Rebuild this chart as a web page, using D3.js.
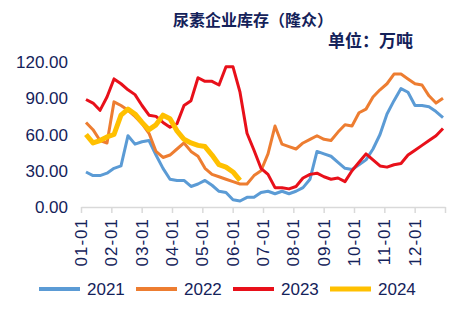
<!DOCTYPE html>
<html>
<head>
<meta charset="utf-8">
<script src="https://cdn.jsdelivr.net/npm/d3@7"></script>
<style>
  body { margin: 0; background: #fff; }
  text { font-family: "Liberation Sans", Arial, "Noto Sans CJK SC", sans-serif; fill: #14225a; }
</style>
</head>
<body>
<div id="chart"></div>
<script>
// weekly inventory, 10k tonnes
var s2021 = [29, 26, 26, 28, 32, 34, 59, 52, 54, 55, 43, 32, 23, 22, 22, 17, 19, 22, 18, 13, 12, 6, 5, 8, 8, 12,
             13, 11, 13, 11, 13, 16, 23, 46, 44, 42, 37, 32, 31, 35, 39, 48, 60, 77, 88, 98, 95, 84, 84, 83, 79, 74];
var s2022 = [70, 64, 55, 53, 87, 84, 80, 75, 69, 61, 46, 41, 43, 48, 53, 46, 42, 32, 27, 25, 23, 21, 19, 19, 26, 30,
             44, 67, 52, 50, 48, 53, 56, 59, 56, 55, 62, 68, 67, 78, 81, 91, 97, 102, 110, 110, 106, 102, 101, 92, 86, 90];
var s2023 = [89, 86, 80, 91, 106, 102, 97, 93, 84, 76, 75, 70, 66, 69, 84, 88, 107, 104, 104, 101, 116, 116, 95, 61, 47, 32,
             27, 16, 16, 15, 17, 24, 27, 28, 25, 23, 24, 21, 30, 37, 44, 39, 34, 33, 35, 36, 43, 47, 51, 55, 59, 65];
var s2024 = [60, 53, 55, 58, 60, 76, 81, 77, 70, 64, 68, 76, 73, 63, 56, 53, 51, 50, 43, 35, 33, 29, 22];

var years = ["2021", "2022", "2023", "2024"];
var colors = ["#5b9bd5", "#ed7d31", "#e8101a", "#ffc000"];
var widths = [3, 3, 3, 5];
var monthLabels = ["01-01", "02-01", "03-01", "04-01", "05-01", "06-01", "07-01", "08-01", "09-01", "10-01", "11-01", "12-01"];
var yTicks = [0, 30, 60, 90, 120];

var width = 451, height = 323;
var svg = d3.select("#chart").append("svg")
            .attr("width", width)
            .attr("height", height);

// x in days of the year, 364-day axis
var x = d3.scaleLinear().domain([0, 364]).range([81, 445]);
var y = d3.scaleLinear().domain([0, 120]).range([207, 62]);

svg.append("text")
   .attr("x", 253).attr("y", 26)
   .attr("text-anchor", "middle")
   .style("font-family", "'Noto Sans CJK SC', sans-serif")
   .style("font-size", "16px")
   .style("font-weight", "bold")
   .text("尿素企业库存（隆众）");

svg.append("text")
   .attr("x", 413).attr("y", 47)
   .attr("text-anchor", "end")
   .style("font-family", "'Noto Sans CJK SC', sans-serif")
   .style("font-size", "17px")
   .style("font-weight", "bold")
   .text("单位：万吨");

// y axis labels only
svg.append("g").selectAll("text")
   .data(yTicks)
   .enter().append("text")
   .attr("x", 68)
   .attr("y", d => y(d))
   .attr("dy", "0.36em")
   .attr("text-anchor", "end")
   .style("font-size", "17px")
   .text(d => d.toFixed(2));

// x axis
var tickDays = d3.range(13).map(m => m * 364 / 12);
var xAxis = svg.append("g")
   .attr("transform", "translate(0," + y(0) + ")")
   .call(d3.axisBottom(x).tickValues(tickDays).tickSize(6).tickSizeOuter(0).tickFormat(""));
xAxis.select(".domain").attr("stroke", "#d9d9d9").attr("stroke-width", 1.5);
xAxis.selectAll(".tick line").attr("stroke", "#d9d9d9").attr("stroke-width", 1.5);

svg.append("g").selectAll("text")
   .data(monthLabels)
   .enter().append("text")
   .attr("transform", (d, i) => "translate(" + x(tickDays[i]) + ",218) rotate(-90)")
   .attr("dy", "0.36em")
   .attr("text-anchor", "end")
   .style("font-size", "17px")
   .style("letter-spacing", "1px")
   .text(d => d);

var line = d3.line()
             .x((d, i) => x(5 + i * 7))
             .y(d => y(d))
             .curve(d3.curveLinear);

[s2021, s2022, s2023, s2024].forEach(function(s, k) {
    svg.append("path")
       .datum(s)
       .attr("fill", "none")
       .attr("stroke", colors[k])
       .attr("stroke-width", widths[k])
       .attr("stroke-linejoin", "round")
       .attr("d", line);
});

// legend
var legend = svg.append("g").selectAll("g")
   .data(years)
   .enter().append("g")
   .attr("transform", (d, i) => "translate(" + (39 + i * 97) + ",289)");
legend.append("line")
   .attr("x1", 0).attr("x2", 41)
   .attr("stroke", (d, i) => colors[i])
   .attr("stroke-width", (d, i) => i == 3 ? 5 : 4);
legend.append("text")
   .attr("x", 48)
   .attr("dy", "0.36em")
   .style("font-size", "17px")
   .text(d => d);
</script>
</body>
</html>
